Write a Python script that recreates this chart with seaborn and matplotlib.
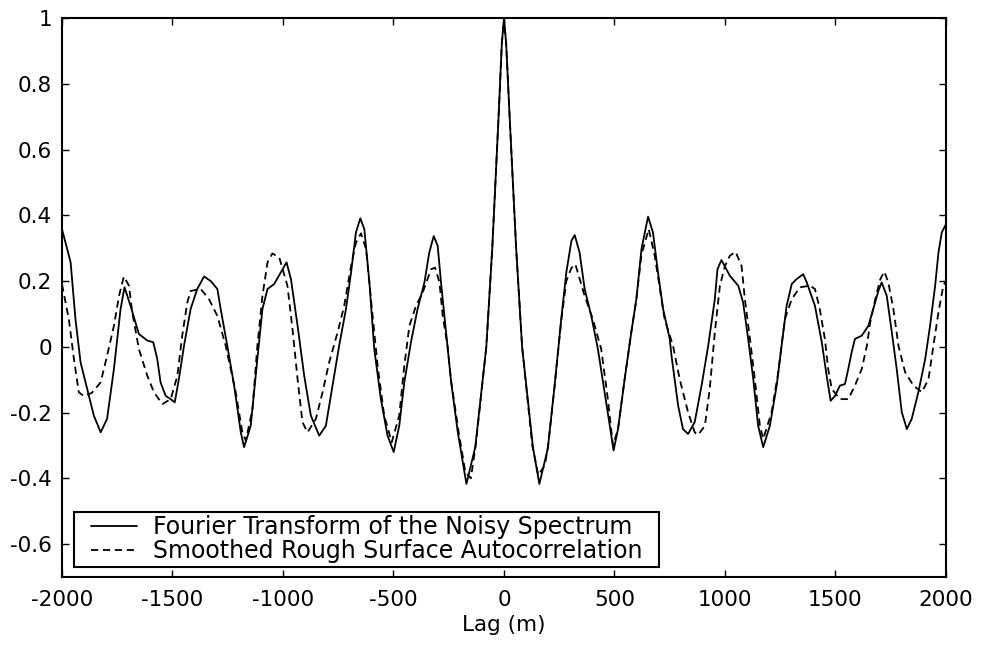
import matplotlib
matplotlib.use("Agg")
import matplotlib.pyplot as plt
from matplotlib.lines import Line2D
from matplotlib.legend_handler import HandlerLine2D
import seaborn as sns
import pandas as pd

# ---- data ----
ft_lag = [-2000, -1961, -1939, -1916, -1886, -1856, -1825, -1796, -1765, -1735, -1717, -1690,
          -1652, -1614, -1587, -1569, -1554, -1531, -1508, -1490, -1471, -1448, -1418, -1388,
          -1357, -1327, -1297, -1282, -1252, -1221, -1191, -1176, -1146, -1116, -1093, -1070,
          -1040, -1010, -984, -964, -934, -904, -874, -836, -806, -776, -746, -715, -692, -670,
          -650, -632, -609, -587, -557, -527, -499, -474, -451, -421, -391, -360, -338, -318,
          -300, -285, -262, -239, -209, -170, -130, -80, -53, -24, -10, 0, 10, 25, 55, 82, 131,
          160, 198, 229, 259, 282, 305, 320, 342, 365, 395, 425, 455, 478, 496, 516, 546, 576,
          599, 622, 652, 674, 697, 720, 750, 758, 788, 810, 833, 863, 894, 924, 954, 966, 984,
          1022, 1060, 1082, 1105, 1128, 1150, 1173, 1203, 1234, 1256, 1279, 1302, 1324, 1354,
          1370, 1407, 1438, 1460, 1478, 1498, 1520, 1543, 1558, 1573, 1588, 1619, 1649, 1671,
          1694, 1709, 1732, 1755, 1777, 1800, 1823, 1845, 1875, 1906, 1928, 1951, 1966, 1981,
          2000]
ft_val = [0.358, 0.257, 0.084, -0.047, -0.128, -0.209, -0.26, -0.219, -0.067, 0.115, 0.181, 0.125,
          0.039, 0.019, 0.014, -0.037, -0.108, -0.149, -0.159, -0.169, -0.098, 0.003, 0.115, 0.176,
          0.214, 0.2, 0.176, 0.115, 0.003, -0.118, -0.26, -0.305, -0.24, -0.037, 0.115, 0.176,
          0.191, 0.226, 0.257, 0.206, 0.064, -0.088, -0.209, -0.27, -0.24, -0.118, 0.003, 0.115,
          0.226, 0.348, 0.391, 0.358, 0.196, -0.007, -0.159, -0.27, -0.32, -0.24, -0.108, 0.014,
          0.115, 0.196, 0.287, 0.337, 0.307, 0.196, 0.044, -0.108, -0.26, -0.417, -0.305, 0.0,
          0.30, 0.707, 0.92, 1.0, 0.92, 0.707, 0.30, 0.0, -0.305, -0.417, -0.31, -0.118, 0.084,
          0.226, 0.322, 0.34, 0.287, 0.176, 0.094, -0.007, -0.138, -0.24, -0.315, -0.25, -0.098,
          0.044, 0.145, 0.297, 0.396, 0.348, 0.226, 0.115, 0.024, -0.027, -0.179, -0.25, -0.265,
          -0.229, -0.118, 0.003, 0.145, 0.236, 0.264, 0.216, 0.186, 0.135, 0.024, -0.098, -0.24,
          -0.305, -0.24, -0.118, 0.003, 0.125, 0.191, 0.206, 0.221, 0.196, 0.125, 0.014, -0.088,
          -0.164, -0.149, -0.118, -0.113, -0.067, -0.017, 0.024, 0.034, 0.064, 0.115, 0.17, 0.196,
          0.155, 0.044, -0.067, -0.199, -0.25, -0.219, -0.138, -0.037, 0.064, 0.186, 0.287, 0.348,
          0.373]

ac_lag = [-2000, -1969, -1946, -1924, -1901, -1865, -1825, -1796, -1765, -1742, -1720, -1697,
          -1682, -1652, -1614, -1584, -1546, -1508, -1478, -1456, -1433, -1418, -1372, -1335,
          -1297, -1259, -1214, -1184, -1168, -1138, -1116, -1093, -1070, -1048, -1017, -980,
          -957, -934, -912, -889, -851, -821, -791, -753, -723, -692, -670, -647, -624, -602,
          -572, -542, -508, -474, -451, -428, -398, -368, -330, -312, -292, -277, -255, -240,
          -205, -175, -150, -128, -80, -53, -24, -10, 0, 10, 25, 55, 82, 128, 155, 185, 200,
          229, 259, 282, 305, 323, 365, 402, 440, 470, 493, 516, 546, 576, 599, 622, 655, 682,
          727, 765, 795, 833, 863, 878, 909, 931, 954, 977, 1000, 1022, 1048, 1075, 1090, 1113,
          1135, 1158, 1173, 1211, 1241, 1271, 1302, 1339, 1384, 1407, 1429, 1452, 1467, 1483,
          1520, 1558, 1588, 1619, 1642, 1657, 1680, 1703, 1721, 1739, 1762, 1785, 1815, 1853,
          1891, 1921, 1943, 1966, 1988, 2000]
ac_val = [0.19, 0.084, -0.037, -0.138, -0.15, -0.14, -0.108, -0.027, 0.064, 0.155, 0.214, 0.186,
          0.105, -0.007, -0.088, -0.138, -0.174, -0.159, -0.088, 0.034, 0.135, 0.17, 0.176, 0.145,
          0.094, 0.003, -0.138, -0.26, -0.285, -0.189, 0.003, 0.155, 0.257, 0.284, 0.272, 0.186,
          0.054, -0.098, -0.229, -0.26, -0.219, -0.138, -0.047, 0.044, 0.125, 0.246, 0.317,
          0.345, 0.297, 0.145, -0.057, -0.209, -0.29, -0.209, -0.057, 0.064, 0.125, 0.165,
          0.236, 0.241, 0.196, 0.094, 0.0, -0.1, -0.26, -0.38, -0.40, -0.30, 0.0, 0.30, 0.707,
          0.92, 1.0, 0.92, 0.707, 0.30, 0.0, -0.30, -0.39, -0.36, -0.30, -0.12, 0.08, 0.2, 0.24,
          0.251, 0.155, 0.084, -0.007, -0.159, -0.30, -0.25, -0.098, 0.044, 0.145, 0.28, 0.358,
          0.277, 0.084, 0.003, -0.098, -0.199, -0.26, -0.268, -0.24, -0.128, 0.044, 0.186,
          0.246, 0.277, 0.289, 0.246, 0.145, 0.024, -0.098, -0.24, -0.28, -0.199, -0.077, 0.084,
          0.145, 0.181, 0.186, 0.176, 0.115, 0.024, -0.067, -0.128, -0.159, -0.159, -0.118,
          -0.067, 0.003, 0.074, 0.145, 0.206, 0.229, 0.196, 0.115, 0.003, -0.077, -0.118,
          -0.138, -0.098, 0.003, 0.105, 0.186, 0.2]

series_names = ["Fourier Transform of the Noisy Spectrum",
                "Smoothed Rough Surface Autocorrelation"]
x_ticks = [-2000, -1500, -1000, -500, 0, 500, 1000, 1500, 2000]
x_tick_labels = ["-2000", "-1500", "-1000", "-500", "0", "500", "1000", "1500", "2000"]
y_ticks = [-0.6, -0.4, -0.2, 0, 0.2, 0.4, 0.6, 0.8, 1]
y_tick_labels = ["-0.6", "-0.4", "-0.2", "0", "0.2", "0.4", "0.6", "0.8", "1"]
x_label = "Lag (m)"

# ---- plotting ----
sns.set_theme(style="ticks")
plt.rcParams["font.family"] = ["DejaVu Sans"]
plt.rcParams["axes.unicode_minus"] = False
plt.rcParams["text.color"] = "black"
plt.rcParams["axes.labelcolor"] = "black"
plt.rcParams["xtick.color"] = "black"
plt.rcParams["ytick.color"] = "black"

FS = 15.5
FS_LEG = 17

fig = plt.figure(figsize=(9.81, 6.46), dpi=100)
ax = fig.add_axes([0.0632, 0.1068, 0.9011, 0.8653])

df_ft = pd.DataFrame({"lag": ft_lag, "value": ft_val})
df_ac = pd.DataFrame({"lag": ac_lag, "value": ac_val})

sns.lineplot(data=df_ft, x="lag", y="value", ax=ax, color="black", linewidth=1.3,
             estimator=None, sort=False, label=series_names[0])
sns.lineplot(data=df_ac, x="lag", y="value", ax=ax, color="black", linewidth=1.3,
             estimator=None, sort=False, label=series_names[1], linestyle=(0, (4, 2.6)))

ax.set_xlim(-2000, 2000)
ax.set_ylim(-0.7, 1.0)
ax.set_xticks(x_ticks)
ax.set_xticklabels(x_tick_labels)
ax.set_yticks(y_ticks)
ax.set_yticklabels(y_tick_labels)
ax.set_xlabel(x_label, fontsize=FS, labelpad=4, color="black")
ax.set_ylabel("")

ax.tick_params(axis="both", direction="in", length=5, width=1.0, labelsize=FS,
               top=True, right=True, colors="black")
ax.tick_params(axis="x", pad=9)
ax.tick_params(axis="y", pad=7)
for sp in ax.spines.values():
    sp.set_visible(True)
    sp.set_color("black")
    sp.set_linewidth(1.5)

leg = ax.legend(loc="lower left", bbox_to_anchor=(0.0136, 0.0186, 0.662, 0.1),
                mode="expand", fontsize=FS_LEG,
                frameon=True, fancybox=False, edgecolor="black", framealpha=1,
                handlelength=2.53, handletextpad=0.66, borderpad=0.15, labelspacing=0.0,
                borderaxespad=0,
                handler_map={Line2D: HandlerLine2D(xpad=0.56)})
leg.get_frame().set_linewidth(1.5)
for t in leg.get_texts():
    t.set_color("black")

fig.savefig("out.png", dpi=100)
